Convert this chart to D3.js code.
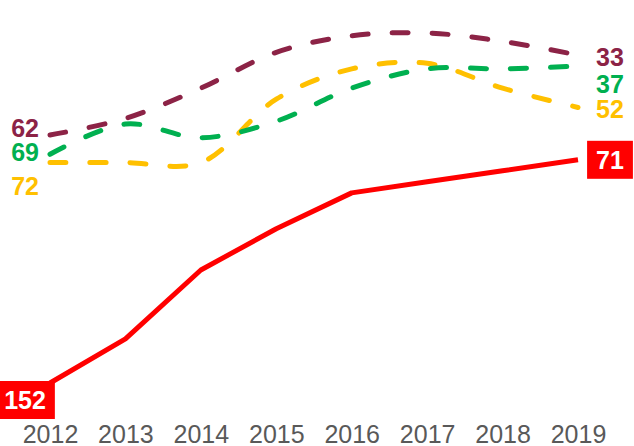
<!DOCTYPE html>
<html>
<head>
<meta charset="utf-8">
<script src="https://cdn.jsdelivr.net/npm/d3@7"></script>
<style>
  body { margin: 0; background: #fff; }
  svg { display: block; font-family: "Liberation Sans", Arial, sans-serif; }
</style>
</head>
<body>
<svg id="chart" width="634" height="446"></svg>
<script>
// ranks per year (lower = better, drawn higher)
var years = [2012, 2013, 2014, 2015, 2016, 2017, 2018, 2019];
var redVals = [152, 136, 111, 96, 83, 79, 75, 71];
var maroonVals = [62, 56, 45, 32, 26, 25, 28, 33];
var yellowVals = [72, 72, 72, 49, 38, 36, 45, 52];
var greenVals = [69, 58, 63, 57, 45, 38, 38, 37];

var seriesNames = ["maroon", "yellow", "green", "red"];
var seriesColors = ["#8C2346", "#FFC000", "#00B050", "#FF0000"];
// vertical nudges for the start / end labels so they don't collide
var startNudge = [-7, 23, -2, 0];
var endNudge = [2, 2, 18, 0];

var svg = d3.select("#chart"),
    width = +svg.attr("width"),
    height = +svg.attr("height");

var x = d3.scalePoint().domain(years).range([50, 578]);
var y = d3.scaleLinear().domain([62, 152]).range([135, 383]);

var allVals = [maroonVals, yellowVals, greenVals, redVals];

var lineSmooth = d3.line()
    .x(function(d, i) { return x(years[i]); })
    .y(function(d) { return y(d); })
    .curve(d3.curveCatmullRom.alpha(0.5));

var lineStraight = d3.line()
    .x(function(d, i) { return x(years[i]); })
    .y(function(d) { return y(d); });

// x axis labels only
var xAxis = d3.axisBottom(x).tickSize(0).tickPadding(0);
var gx = svg.append("g").attr("transform", "translate(0,425)").call(xAxis);
gx.select(".domain").remove();
gx.selectAll("text")
    .attr("dy", null)
    .attr("y", 18)
    .attr("fill", "#595959")
    .style("font-size", "25px")
    .style("font-family", "Liberation Sans, Arial, sans-serif");

allVals.forEach(function(vals, s) {
  var isRed = seriesNames[s] == "red";
  svg.append("path")
    .attr("d", isRed ? lineStraight(vals) : lineSmooth(vals))
    .attr("fill", "none")
    .attr("stroke", seriesColors[s])
    .attr("stroke-width", 5)
    .attr("stroke-linecap", isRed ? "butt" : "round")
    .attr("stroke-linejoin", "round")
    .attr("stroke-dasharray", isRed ? null : "16,24");
});

// start / end labels for the dashed series
allVals.forEach(function(vals, s) {
  if (seriesNames[s] == "red") return;
  svg.append("text")
    .attr("x", x(years[0]) - 11)
    .attr("y", y(vals[0]) + startNudge[s] + 9)
    .attr("text-anchor", "end")
    .attr("fill", seriesColors[s])
    .style("font-size", "25px")
    .style("font-weight", "bold")
    .text(vals[0]);
  svg.append("text")
    .attr("x", x(years[years.length - 1]) + 18)
    .attr("y", y(vals[vals.length - 1]) + endNudge[s] + 9)
    .attr("text-anchor", "start")
    .attr("fill", seriesColors[s])
    .style("font-size", "25px")
    .style("font-weight", "bold")
    .text(vals[vals.length - 1]);
});

// boxed labels for the red series
function boxLabel(cx, cy, val) {
  var g = svg.append("g");
  var r = g.append("rect").attr("fill", "#FF0000");
  var t = g.append("text")
    .attr("x", cx)
    .attr("y", cy + 9)
    .attr("text-anchor", "middle")
    .attr("fill", "#fff")
    .style("font-size", "25px")
    .style("font-weight", "bold")
    .text(val);
  var w = t.node().getComputedTextLength();
  r.attr("x", cx - w / 2 - 9).attr("y", cy - 19)
   .attr("width", w + 18).attr("height", 38);
}
var n = redVals.length;
boxLabel(x(years[0]) - 25, y(redVals[0]) + 17, redVals[0]);
boxLabel(x(years[n - 1]) + 32, y(redVals[n - 1]), redVals[n - 1]);
</script>
</body>
</html>
